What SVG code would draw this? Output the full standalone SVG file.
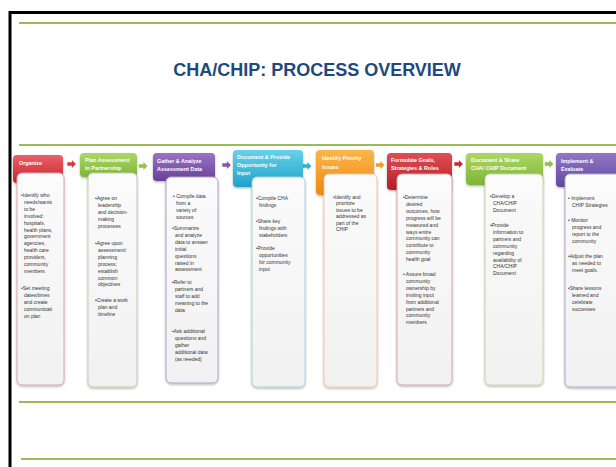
<svg xmlns="http://www.w3.org/2000/svg" xmlns:xlink="http://www.w3.org/1999/xlink" width="616" height="467" viewBox="0 0 616 467">
  <style>
    .frame { stroke: #000; fill: none; }
    .rule { stroke: #9BBB59; stroke-width: 2; }
    .title { font-family: "Liberation Sans", Arial, sans-serif; font-weight: bold; font-size: 18px; fill: #1F497D; }
    .hdr { font-family: "Liberation Sans", Arial, sans-serif; font-weight: bold; font-size: 5.4px; fill: #FFFFFF; }
    .txt { font-family: "Liberation Sans", Arial, sans-serif; font-size: 5px; fill: #333333; }
    .body { stroke-width: 1; fill: url(#gBody); }
  </style>
  <defs>
    <filter id="shadow" x="-20%" y="-20%" width="140%" height="140%">
      <feDropShadow dx="0" dy="1.2" stdDeviation="0.8" flood-color="#000" flood-opacity="0.3"/>
    </filter>
    <linearGradient id="gBody" x1="0" y1="0" x2="0" y2="1">
      <stop offset="0" stop-color="#FBFBFB"/>
      <stop offset="1" stop-color="#F1F1F1"/>
    </linearGradient>
    <linearGradient id="gRed" x1="0" y1="0" x2="0" y2="1">
      <stop offset="0" stop-color="#E9606A"/>
      <stop offset="1" stop-color="#C8252D"/>
    </linearGradient>
    <linearGradient id="gGreen" x1="0" y1="0" x2="0" y2="1">
      <stop offset="0" stop-color="#ADD764"/>
      <stop offset="1" stop-color="#7DB53A"/>
    </linearGradient>
    <linearGradient id="gPurple" x1="0" y1="0" x2="0" y2="1">
      <stop offset="0" stop-color="#9A74C4"/>
      <stop offset="1" stop-color="#6A3F99"/>
    </linearGradient>
    <linearGradient id="gCyan" x1="0" y1="0" x2="0" y2="1">
      <stop offset="0" stop-color="#67D1EA"/>
      <stop offset="1" stop-color="#1DA3C8"/>
    </linearGradient>
    <linearGradient id="gOrange" x1="0" y1="0" x2="0" y2="1">
      <stop offset="0" stop-color="#FBB54A"/>
      <stop offset="1" stop-color="#EF8A14"/>
    </linearGradient>
    <linearGradient id="gDarkRed" x1="0" y1="0" x2="0" y2="1">
      <stop offset="0" stop-color="#DE4E54"/>
      <stop offset="1" stop-color="#B71E25"/>
    </linearGradient>
    <linearGradient id="gViolet" x1="0" y1="0" x2="0" y2="1">
      <stop offset="0" stop-color="#9078C6"/>
      <stop offset="1" stop-color="#63479C"/>
    </linearGradient>
    <path id="arrow" d="M-4.2,-1.7 H0.4 V-3.9 L4.4,0 L0.4,3.9 V1.7 H-4.2 Z"/>
  </defs>

  <rect width="616" height="467" fill="#FFFFFF"/>

  <!-- slide frame and rules -->
  <path class="frame" d="M10,467 V12.5 H616" stroke-width="3"/>
  <line class="rule" x1="19" y1="23" x2="616" y2="23"/>
  <line class="rule" x1="19" y1="145" x2="616" y2="145"/>
  <line class="rule" x1="19" y1="402" x2="616" y2="402"/>
  <line class="rule" x1="21" y1="459" x2="616" y2="459"/>

  <text class="title" x="317" y="76" text-anchor="middle">CHA/CHIP: PROCESS OVERVIEW</text>

  <!-- connectors -->
  <g id="connectors">
    <use xlink:href="#arrow" x="71.5" y="164" fill="#D9383E"/>
    <use xlink:href="#arrow" x="143" y="166" fill="#8CC446"/>
    <use xlink:href="#arrow" x="226.5" y="165" fill="#7E56AE"/>
    <use xlink:href="#arrow" x="307" y="166" fill="#2DB3D6"/>
    <use xlink:href="#arrow" x="380" y="165" fill="#F39A22"/>
    <use xlink:href="#arrow" x="458.5" y="164" fill="#C8282F"/>
    <use xlink:href="#arrow" x="549" y="164" fill="#8CC446"/>
  </g>

  <!-- step 1 -->
  <g id="step-organize">
    <rect x="13" y="155" width="50" height="28" rx="4" fill="url(#gRed)" filter="url(#shadow)"/>
    <text class="hdr" x="19" y="165">Organize</text>
    <rect class="body" x="17" y="173" width="47" height="212" rx="5" stroke="#DDA7AD" filter="url(#shadow)"/>
    <text class="txt">
      <tspan x="21" y="197">•Identify who</tspan>
      <tspan x="24" dy="6.9">needs/wants</tspan>
      <tspan x="24" dy="6.9">to be</tspan>
      <tspan x="24" dy="6.9">involved:</tspan>
      <tspan x="24" dy="6.9">hospitals,</tspan>
      <tspan x="24" dy="6.9">health plans,</tspan>
      <tspan x="24" dy="6.9">government</tspan>
      <tspan x="24" dy="6.9">agencies,</tspan>
      <tspan x="24" dy="6.9">health care</tspan>
      <tspan x="24" dy="6.9">providers,</tspan>
      <tspan x="24" dy="6.9">community</tspan>
      <tspan x="24" dy="6.9">members</tspan>
      <tspan x="21" y="290">•Set meeting</tspan>
      <tspan x="24" dy="6.9">dates/times</tspan>
      <tspan x="24" dy="6.9">and create</tspan>
      <tspan x="24" dy="6.9">communicati</tspan>
      <tspan x="24" dy="6.9">on plan</tspan>
    </text>
  </g>

  <!-- step 2 -->
  <g id="step-plan">
    <rect x="80" y="153" width="57" height="24" rx="4" fill="url(#gGreen)" filter="url(#shadow)"/>
    <text class="hdr"><tspan x="85" y="162">Plan Assessment</tspan><tspan x="85" y="170">in Partnership</tspan></text>
    <rect class="body" x="88" y="173" width="49" height="214" rx="5" stroke="#C5CDAA" filter="url(#shadow)"/>
    <text class="txt">
      <tspan x="95" y="200">•Agree on</tspan>
      <tspan x="98" dy="6.9">leadership</tspan>
      <tspan x="98" dy="6.9">and decision-</tspan>
      <tspan x="98" dy="6.9">making</tspan>
      <tspan x="98" dy="6.9">processes</tspan>
      <tspan x="95" y="245">•Agree upon</tspan>
      <tspan x="98" dy="6.9">assessment/</tspan>
      <tspan x="98" dy="6.9">planning</tspan>
      <tspan x="98" dy="6.9">process;</tspan>
      <tspan x="98" dy="6.9">establish</tspan>
      <tspan x="98" dy="6.9">common</tspan>
      <tspan x="98" dy="6.9">objectives</tspan>
      <tspan x="95" y="302">•Create a work</tspan>
      <tspan x="98" dy="6.9">plan and</tspan>
      <tspan x="98" dy="6.9">timeline</tspan>
    </text>
  </g>

  <!-- step 3 -->
  <g id="step-gather">
    <rect x="153" y="153" width="62" height="28" rx="4" fill="url(#gPurple)" filter="url(#shadow)"/>
    <text class="hdr"><tspan x="157" y="163">Gather &amp; Analyze</tspan><tspan x="157" y="171">Assessment Data</tspan></text>
    <rect class="body" x="166" y="177" width="52" height="206" rx="5" stroke="#ABA6C9" filter="url(#shadow)"/>
    <text class="txt">
      <tspan x="173" y="198">• Compile data</tspan>
      <tspan x="176" dy="6.9">from a</tspan>
      <tspan x="176" dy="6.9">variety of</tspan>
      <tspan x="176" dy="6.9">sources</tspan>
      <tspan x="172" y="230">•Summarize</tspan>
      <tspan x="175" dy="6.9">and analyze</tspan>
      <tspan x="175" dy="6.9">data to answer</tspan>
      <tspan x="175" dy="6.9">initial</tspan>
      <tspan x="175" dy="6.9">questions</tspan>
      <tspan x="175" dy="6.9">raised in</tspan>
      <tspan x="175" dy="6.9">assessment</tspan>
      <tspan x="172" y="284">•Refer to</tspan>
      <tspan x="175" dy="6.9">partners and</tspan>
      <tspan x="175" dy="6.9">staff to add</tspan>
      <tspan x="175" dy="6.9">meaning to the</tspan>
      <tspan x="175" dy="6.9">data</tspan>
      <tspan x="172" y="333">•Ask additional</tspan>
      <tspan x="175" dy="6.9">questions and</tspan>
      <tspan x="175" dy="6.9">gather</tspan>
      <tspan x="175" dy="6.9">additional data</tspan>
      <tspan x="175" dy="6.9">(as needed)</tspan>
    </text>
  </g>

  <!-- step 4 -->
  <g id="step-document-provide">
    <rect x="233" y="150" width="70" height="37" rx="4" fill="url(#gCyan)" filter="url(#shadow)"/>
    <text class="hdr"><tspan x="237" y="159">Document &amp; Provide</tspan><tspan x="237" y="167">Opportunity for</tspan><tspan x="237" y="175">Input</tspan></text>
    <rect class="body" x="252" y="177" width="53" height="210" rx="5" stroke="#AAD1E0" filter="url(#shadow)"/>
    <text class="txt">
      <tspan x="256" y="200">•Compile CHA</tspan>
      <tspan x="259" dy="6.9">findings</tspan>
      <tspan x="256" y="223">•Share key</tspan>
      <tspan x="259" dy="6.9">findings with</tspan>
      <tspan x="259" dy="6.9">stakeholders</tspan>
      <tspan x="256" y="250">•Provide</tspan>
      <tspan x="259" dy="6.9">opportunities</tspan>
      <tspan x="259" dy="6.9">for community</tspan>
      <tspan x="259" dy="6.9">input</tspan>
    </text>
  </g>

  <!-- step 5 -->
  <g id="step-identify">
    <rect x="316" y="150" width="58" height="45" rx="4" fill="url(#gOrange)" filter="url(#shadow)"/>
    <text class="hdr"><tspan x="322" y="160">Identify Priority</tspan><tspan x="322" y="169">Issues</tspan></text>
    <rect class="body" x="324" y="174" width="53" height="213" rx="5" stroke="#F0C6AC" filter="url(#shadow)"/>
    <text class="txt">
      <tspan x="333" y="199">•Identify and</tspan>
      <tspan x="336" dy="6.4">prioritize</tspan>
      <tspan x="336" dy="6.4">issues to be</tspan>
      <tspan x="336" dy="6.4">addressed as</tspan>
      <tspan x="336" dy="6.4">part of the</tspan>
      <tspan x="336" dy="6.4">CHIP</tspan>
    </text>
  </g>

  <!-- step 6 -->
  <g id="step-formulate">
    <rect x="387" y="153" width="65" height="37" rx="4" fill="url(#gDarkRed)" filter="url(#shadow)"/>
    <text class="hdr"><tspan x="391" y="162">Formulate Goals,</tspan><tspan x="391" y="170">Strategies &amp; Roles</tspan></text>
    <rect class="body" x="397" y="174" width="55" height="211" rx="5" stroke="#D8A5AB" filter="url(#shadow)"/>
    <text class="txt">
      <tspan x="403" y="199">•Determine</tspan>
      <tspan x="406" dy="6.9">desired</tspan>
      <tspan x="406" dy="6.9">outcomes, how</tspan>
      <tspan x="406" dy="6.9">progress will be</tspan>
      <tspan x="406" dy="6.9">measured and</tspan>
      <tspan x="406" dy="6.9">ways entire</tspan>
      <tspan x="406" dy="6.9">community can</tspan>
      <tspan x="406" dy="6.9">contribute to</tspan>
      <tspan x="406" dy="6.9">community</tspan>
      <tspan x="406" dy="6.9">health goal</tspan>
      <tspan x="403" y="276">• Assure broad</tspan>
      <tspan x="406" dy="6.9">community</tspan>
      <tspan x="406" dy="6.9">ownership by</tspan>
      <tspan x="406" dy="6.9">inviting  input</tspan>
      <tspan x="406" dy="6.9">from additional</tspan>
      <tspan x="406" dy="6.9">partners and</tspan>
      <tspan x="406" dy="6.9">community</tspan>
      <tspan x="406" dy="6.9">members</tspan>
    </text>
  </g>

  <!-- step 7 -->
  <g id="step-document-share">
    <rect x="466" y="153" width="77" height="32" rx="4" fill="url(#gGreen)" filter="url(#shadow)"/>
    <text class="hdr"><tspan x="471" y="162">Document &amp; Share</tspan><tspan x="471" y="170">CHA/ CHIP Document</tspan></text>
    <rect class="body" x="485" y="174" width="58" height="211" rx="5" stroke="#CAD5AC" filter="url(#shadow)"/>
    <text class="txt">
      <tspan x="490" y="198">•Develop a</tspan>
      <tspan x="493" dy="6.9">CHA/CHIP</tspan>
      <tspan x="493" dy="6.9">Document</tspan>
      <tspan x="490" y="227">•Provide</tspan>
      <tspan x="493" dy="6.9">information to</tspan>
      <tspan x="493" dy="6.9">partners and</tspan>
      <tspan x="493" dy="6.9">community</tspan>
      <tspan x="493" dy="6.9">regarding</tspan>
      <tspan x="493" dy="6.9">availability of</tspan>
      <tspan x="493" dy="6.9">CHA/CHIP</tspan>
      <tspan x="493" dy="6.9">Document</tspan>
    </text>
  </g>

  <!-- step 8 -->
  <g id="step-implement">
    <rect x="556" y="153" width="64" height="34" rx="4" fill="url(#gViolet)" filter="url(#shadow)"/>
    <text class="hdr"><tspan x="561" y="163">Implement &amp;</tspan><tspan x="561" y="171">Evaluate</tspan></text>
    <rect class="body" x="565" y="174" width="58" height="213" rx="5" stroke="#ACA9CE" filter="url(#shadow)"/>
    <text class="txt">
      <tspan x="568" y="200">• Implement</tspan>
      <tspan x="572" dy="6.9">CHIP Strategies</tspan>
      <tspan x="568" y="222">• Monitor</tspan>
      <tspan x="572" dy="6.9">progress and</tspan>
      <tspan x="572" dy="6.9">report to the</tspan>
      <tspan x="572" dy="6.9">community</tspan>
      <tspan x="568" y="258">•Adjust the plan</tspan>
      <tspan x="572" dy="6.9">as needed to</tspan>
      <tspan x="572" dy="6.9">meet goals.</tspan>
      <tspan x="568" y="290">•Share lessons</tspan>
      <tspan x="572" dy="6.9">learned and</tspan>
      <tspan x="572" dy="6.9">celebrate</tspan>
      <tspan x="572" dy="6.9">successes</tspan>
    </text>
  </g>
</svg>
